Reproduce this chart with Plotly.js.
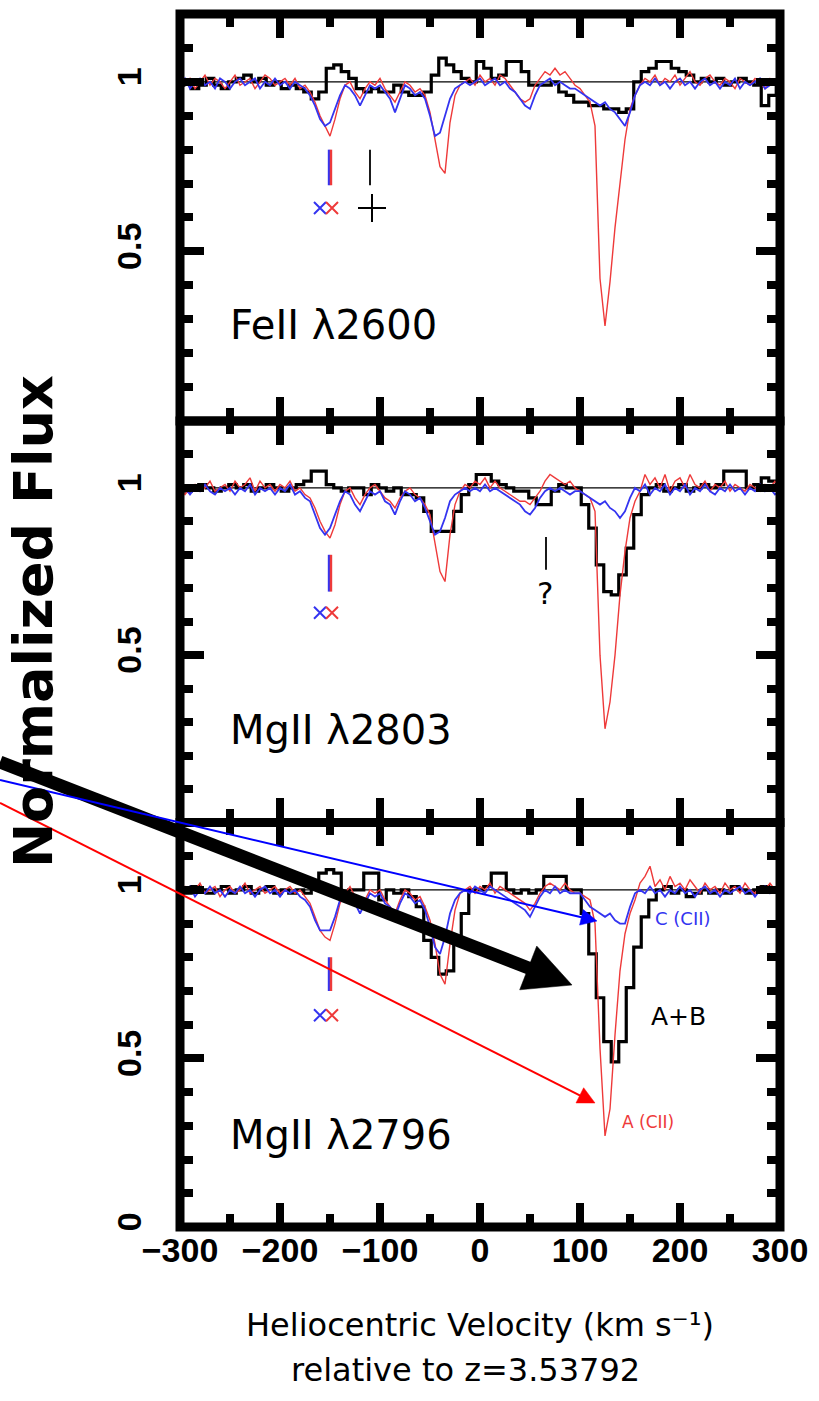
<!DOCTYPE html>
<html><head><meta charset="utf-8">
<script src="https://cdn.plot.ly/plotly-3.0.1.min.js"></script>
<style>html,body{margin:0;padding:0;background:#fff;}#chart{width:819px;height:1401px;}</style>
</head><body><div id="chart"></div>
<script>
// velocity grid of the high-resolution spectra (km/s)
const VEL = [
 -300,-295,-290,-285,-280,-275,-270,-265,-260,-255,
 -250,-245,-240,-235,-230,-225,-220,-215,-210,-205,
 -200,-195,-190,-185,-180,-175,-170,-165,-160,-155,
 -150,-145,-140,-135,-130,-125,-120,-115,-110,-105,
 -100,-95,-90,-85,-80,-75,-70,-65,-60,-55,
 -50,-45,-40,-35,-30,-25,-20,-15,-10,-5,
 0,5,10,15,20,25,30,35,40,45,
 50,55,60,65,70,75,80,85,90,95,
 100,105,110,115,120,125,130,135,140,145,
 150,155,160,165,170,175,180,185,190,195,
 200,205,210,215,220,225,230,235,240,245,
 250,255,260,265,270,275,280,285,290,295,
 300];
// velocity bins of the low-resolution (A+B) spectra
const VEL_BIN = [
 -300,-292.5,-285,-277.5,-270,-262.5,-255,-247.5,
 -240,-232.5,-225,-217.5,-210,-202.5,-195,-187.5,
 -180,-172.5,-165,-157.5,-150,-142.5,-135,-127.5,
 -120,-112.5,-105,-97.5,-90,-82.5,-75,-67.5,
 -60,-52.5,-45,-37.5,-30,-22.5,-15,-7.5,
 0,7.5,15,22.5,30,37.5,45,52.5,
 60,67.5,75,82.5,90,97.5,105,112.5,
 120,127.5,135,142.5,150,157.5,165,172.5,
 180,187.5,195,202.5,210,217.5,225,232.5,
 240,247.5,255,262.5,270,277.5,285,292.5,
 300];

// FeII 2600
const FE2600_A = [
 1.00,0.99,1.01,0.98,1.00,1.02,0.99,1.01,1.00,0.98,
 1.00,1.02,0.99,1.00,1.01,0.98,1.00,1.02,1.01,0.99,
 1.00,1.01,0.99,1.01,0.98,0.99,0.97,0.94,0.90,0.87,
 0.84,0.89,0.95,0.99,1.00,0.97,0.95,0.98,1.00,0.99,
 1.01,0.98,0.96,0.94,0.97,1.00,0.99,0.97,0.98,0.96,
 0.91,0.83,0.75,0.73,0.88,0.96,0.99,1.00,1.01,0.99,
 1.02,1.00,1.01,0.99,1.02,1.01,0.99,0.97,0.95,0.94,
 0.95,0.99,1.01,1.03,1.02,1.04,1.02,1.03,1.01,0.99,
 0.98,0.96,0.94,0.87,0.42,0.28,0.41,0.57,0.70,0.83,
 0.92,0.96,0.99,1.01,1.00,1.02,0.99,1.01,1.00,1.02,
 0.99,1.01,1.03,1.00,0.99,1.01,1.02,1.00,0.99,1.01,
 1.00,0.98,1.01,1.00,0.99,1.01,1.00,0.98,1.01,1.00,
 1.01];
const FE2600_C = [
 0.99,1.01,0.98,1.00,1.01,0.99,1.00,0.98,1.01,1.00,
 0.98,1.00,1.01,0.99,1.00,1.01,0.98,1.00,0.99,1.01,
 0.99,1.00,0.98,1.00,0.99,0.98,0.96,0.93,0.89,0.87,
 0.88,0.92,0.96,0.99,0.98,0.96,0.93,0.96,0.99,0.98,
 0.99,0.97,0.95,0.91,0.95,0.99,0.98,0.96,0.97,0.95,
 0.90,0.84,0.85,0.90,0.95,0.98,0.99,1.00,0.99,1.00,
 1.01,0.99,1.00,1.01,0.99,1.00,0.98,0.97,0.95,0.93,
 0.92,0.96,0.99,1.00,1.01,0.99,1.00,0.99,0.98,0.98,
 0.97,0.96,0.95,0.94,0.93,0.94,0.92,0.91,0.89,0.87,
 0.91,0.96,0.99,1.00,0.99,1.01,0.99,1.00,0.98,1.00,
 1.01,0.99,1.00,0.98,1.00,1.01,0.99,1.00,0.98,1.00,
 0.99,1.01,0.98,1.00,0.99,1.00,1.01,0.98,0.99,1.00,
 0.99];
const FE2600_AB = [
 0.99,1.00,0.98,0.99,1.01,0.99,0.98,1.00,
 1.01,1.02,1.00,1.01,0.99,1.00,0.98,0.99,
 0.98,0.97,0.95,0.97,1.04,1.05,1.03,1.01,
 0.98,0.97,0.98,0.97,0.97,0.99,0.97,0.96,
 0.96,0.97,1.02,1.07,1.05,1.03,1.01,1.00,
 1.06,1.04,1.01,1.02,1.06,1.06,1.03,0.99,
 0.99,0.99,1.00,0.97,0.96,0.94,0.94,0.93,
 0.93,0.92,0.92,0.91,0.92,1.00,1.03,1.04,
 1.06,1.06,1.04,1.03,1.02,1.00,1.01,1.00,
 1.01,0.99,1.00,1.01,1.00,0.99,0.93,0.96,
 1.00];

// MgII 2803
const MG2803_A = [
 1.00,0.98,1.00,1.01,0.99,1.00,1.02,0.99,1.00,1.01,
 0.99,1.02,1.00,1.01,1.03,0.99,1.02,1.00,1.01,0.99,
 1.01,1.00,1.02,0.99,1.00,0.98,0.97,0.94,0.90,0.87,
 0.85,0.89,0.95,0.99,1.00,0.97,0.95,0.98,1.00,1.01,
 0.99,0.97,0.96,0.94,0.97,0.99,1.00,0.98,0.97,0.95,
 0.92,0.84,0.75,0.72,0.86,0.95,0.99,1.01,1.00,1.02,
 1.01,1.03,1.00,1.02,1.00,0.99,0.98,0.97,0.96,0.96,
 0.95,0.97,0.99,1.02,1.04,1.03,1.02,1.01,1.02,1.00,
 0.99,0.98,0.97,0.93,0.50,0.28,0.36,0.50,0.68,0.81,
 0.91,0.96,0.99,1.04,1.01,1.03,1.00,1.04,0.99,1.02,
 1.03,1.00,1.04,1.01,1.00,1.02,0.99,1.01,1.00,1.02,
 0.99,1.01,1.00,0.99,1.01,1.00,0.99,1.01,1.00,1.02,
 1.00];
const MG2803_C = [
 0.99,1.00,0.98,1.00,0.99,1.01,0.99,0.98,1.00,0.99,
 1.00,0.98,1.00,0.99,1.01,0.98,1.00,0.99,1.00,0.98,
 1.00,0.99,1.01,0.98,0.99,0.97,0.96,0.92,0.88,0.86,
 0.88,0.92,0.96,0.99,0.98,0.95,0.93,0.96,0.99,0.98,
 0.99,0.96,0.95,0.92,0.96,0.99,0.98,0.96,0.97,0.94,
 0.90,0.86,0.87,0.91,0.96,0.98,0.99,1.00,0.99,1.00,
 0.99,1.01,0.99,1.00,0.99,0.98,0.97,0.96,0.95,0.93,
 0.92,0.94,0.97,0.99,1.00,0.99,1.00,0.99,0.98,0.99,
 0.99,0.98,0.97,0.96,0.95,0.96,0.94,0.93,0.91,0.93,
 0.97,1.00,0.99,1.01,0.98,1.00,0.99,1.01,0.98,1.00,
 0.99,1.01,0.98,1.00,0.99,1.01,0.99,0.98,1.00,0.99,
 1.01,0.99,1.00,0.98,1.00,0.99,1.01,0.99,1.00,0.98,
 0.99];
const MG2803_AB = [
 1.00,0.99,1.00,1.01,1.00,0.99,1.00,1.01,
 1.00,1.01,0.99,1.00,1.01,1.00,0.99,1.00,
 1.01,1.02,1.05,1.05,1.01,1.00,0.99,1.00,
 1.00,0.98,1.01,1.00,0.99,1.00,0.98,0.98,
 0.97,0.93,0.87,0.87,0.87,0.93,0.98,1.01,
 1.04,1.04,1.02,1.01,1.00,0.99,0.99,0.97,
 0.95,0.95,0.99,1.01,1.00,1.00,0.95,0.88,
 0.77,0.69,0.68,0.74,0.82,0.92,0.98,1.00,
 1.01,0.99,1.00,1.01,0.99,1.00,1.01,1.00,
 1.01,1.05,1.05,1.05,1.00,1.01,1.03,1.02,
 1.00];

// MgII 2796
const MG2796_A = [
 1.00,1.01,0.99,1.00,1.02,0.99,1.00,1.01,0.98,1.00,
 1.01,0.99,1.00,1.02,0.99,1.00,1.01,0.99,1.00,1.01,
 0.99,1.00,1.01,0.99,1.00,0.98,0.96,0.92,0.88,0.86,
 0.85,0.90,0.96,0.99,1.01,0.98,0.95,0.97,1.00,0.99,
 1.00,0.97,0.95,0.93,0.97,1.00,0.99,0.97,0.98,0.95,
 0.91,0.84,0.75,0.72,0.84,0.94,0.99,1.00,1.01,0.99,
 1.01,1.00,1.02,0.99,1.01,1.00,0.99,0.98,0.97,0.96,
 0.94,0.96,0.99,1.01,1.02,1.01,1.00,1.02,1.00,0.99,
 0.99,0.98,0.97,0.90,0.53,0.27,0.35,0.57,0.76,0.87,
 0.93,0.97,1.02,1.04,1.07,1.01,1.03,1.00,1.04,1.01,
 1.02,1.00,1.03,1.01,0.99,1.02,1.00,1.01,0.99,1.02,
 1.00,1.01,0.99,1.02,1.00,0.99,1.01,1.00,1.02,1.00,
 1.01];
const MG2796_C = [
 0.99,1.00,1.01,0.98,1.00,0.99,1.01,0.99,1.00,0.98,
 1.00,0.99,1.01,0.99,1.00,0.98,1.00,1.01,0.99,1.00,
 0.98,1.00,0.99,1.00,0.98,0.97,0.95,0.91,0.88,0.88,
 0.88,0.92,0.97,0.99,0.98,0.96,0.93,0.96,0.99,0.98,
 0.99,0.96,0.95,0.92,0.96,0.99,0.98,0.96,0.97,0.94,
 0.89,0.83,0.81,0.86,0.93,0.97,0.99,1.00,0.99,1.01,
 1.00,0.99,1.01,1.00,0.99,0.98,0.97,0.96,0.95,0.94,
 0.92,0.95,0.98,1.00,0.99,1.01,0.99,1.00,0.99,0.99,
 0.99,0.97,0.95,0.94,0.93,0.92,0.93,0.91,0.90,0.90,
 0.95,0.99,1.00,0.99,1.01,0.99,1.00,0.98,1.00,0.99,
 1.01,0.99,1.00,0.98,1.00,1.01,0.99,1.00,0.98,1.00,
 0.99,1.00,1.01,0.99,1.00,0.98,1.00,1.01,0.99,1.00,
 0.99];
const MG2796_AB = [
 1.00,0.99,1.01,1.00,0.99,1.00,1.01,0.99,
 1.00,1.01,0.99,1.00,1.01,0.99,1.00,0.99,
 1.00,0.99,1.01,1.05,1.06,1.05,0.98,1.00,
 1.00,1.05,1.05,0.97,1.00,0.99,1.00,0.98,
 0.95,0.85,0.80,0.75,0.76,0.85,0.93,1.00,
 1.00,1.01,1.05,1.05,1.00,0.99,1.00,0.99,
 1.00,1.04,1.04,1.04,1.00,1.00,0.93,0.81,
 0.68,0.55,0.49,0.55,0.71,0.83,0.92,0.97,
 1.00,1.01,0.99,1.00,0.98,0.99,1.00,0.99,
 1.00,0.99,1.01,1.00,0.99,1.00,1.01,1.00,
 1.00];

const CONT_VEL = [-300, 300];
const CONT_FLUX = [1, 1];
const PANEL_NAMES = ['FeII λ2600', 'MgII λ2803', 'MgII λ2796'];
const X_TITLE = 'Heliocentric Velocity (km s⁻¹)';
const X_SUBTITLE = 'relative to z=3.53792';
const Y_TITLE = 'Normalized Flux';

// component tick bars: panel, velocity, low, high, component
const BAR_PANEL = [1, 1, 1, 2, 2, 2, 3, 3];
const BAR_VEL   = [-151, -149, -110, -151, -149, 66, -151, -149];
const BAR_LO    = [0.695, 0.695, 0.695, 0.69, 0.69, 0.755, 0.70, 0.70];
const BAR_HI    = [0.80, 0.80, 0.80, 0.80, 0.80, 0.853, 0.80, 0.80];
const BAR_COMP  = ['C', 'A', 'AB', 'C', 'A', 'AB', 'C', 'A'];
// component symbols
const SYM_PANEL = [1, 1, 1, 2, 2, 3, 3];
const SYM_VEL   = [-160, -148, -108, -160, -148, -160, -148];
const SYM_FLUX  = [0.628, 0.628, 0.628, 0.627, 0.627, 0.628, 0.628];
const SYM_COMP  = ['C', 'A', 'AB', 'C', 'A', 'C', 'A'];
// text labels
const TXT_PANEL = [2, 3, 3, 3];
const TXT_VEL   = [65, 203, 198, 168];
const TXT_FLUX  = [0.686, 0.916, 0.623, 0.311];
const TXT_TEXT  = ['?', 'C (CII)', 'A+B', 'A (CII)'];
const TXT_COMP  = ['AB', 'C', 'AB', 'A'];
const TXT_SIZE  = [31, 18, 25, 17];
// pointer arrows, page pixels: tail (left page edge) and tip
const ARROW_TAIL_X = [0, 0, 0];
const ARROW_TAIL_Y = [762, 780, 803];
const ARROW_TIP_X  = [572, 597, 595];
const ARROW_TIP_Y  = [985, 921, 1103];
const ARROW_WIDTH  = [13, 2, 2];
const ARROW_HEAD   = [47, 16, 17];
const ARROW_COLOR  = ['#000000', '#0000ff', '#ff0000'];

const COLOR = {A: '#ee3a3a', C: '#3434f0', AB: '#000000'};
const AX = [['x', 'y'], ['x2', 'y2'], ['x3', 'y3']];
const SPEC_A = [FE2600_A, MG2803_A, MG2796_A];
const SPEC_C = [FE2600_C, MG2803_C, MG2796_C];
const SPEC_AB = [FE2600_AB, MG2803_AB, MG2796_AB];

const traces = [];
for (let p = 0; p < 3; p++) {
  const [xa, ya] = AX[p];
  traces.push({x: CONT_VEL, y: CONT_FLUX, xaxis: xa, yaxis: ya, mode: 'lines',
    line: {color: '#000', width: 1.3}, hoverinfo: 'skip'});
  traces.push({x: VEL_BIN, y: SPEC_AB[p], xaxis: xa, yaxis: ya, mode: 'lines',
    line: {color: COLOR.AB, width: 3.2, shape: 'hvh'}});
  traces.push({x: VEL, y: SPEC_A[p], xaxis: xa, yaxis: ya, mode: 'lines',
    line: {color: COLOR.A, width: 1.4}});
  traces.push({x: VEL, y: SPEC_C[p], xaxis: xa, yaxis: ya, mode: 'lines',
    line: {color: COLOR.C, width: 1.8}});
}
for (let i = 0; i < BAR_VEL.length; i++) {
  const [xa, ya] = AX[BAR_PANEL[i] - 1];
  traces.push({x: [BAR_VEL[i], BAR_VEL[i]], y: [BAR_LO[i], BAR_HI[i]], xaxis: xa, yaxis: ya,
    mode: 'lines', line: {color: COLOR[BAR_COMP[i]], width: BAR_COMP[i] === 'AB' ? 1.8 : 2.4}});
}
for (let i = 0; i < SYM_VEL.length; i++) {
  const [xa, ya] = AX[SYM_PANEL[i] - 1];
  const isAB = SYM_COMP[i] === 'AB';
  const c = COLOR[SYM_COMP[i]];
  traces.push({x: [SYM_VEL[i]], y: [SYM_FLUX[i]], xaxis: xa, yaxis: ya, mode: 'markers',
    marker: {symbol: isAB ? 'cross-thin-open' : 'x-thin-open', size: isAB ? 20 : 12, color: c,
      line: {color: c, width: 2}}});
}

const W = 819, H = 1401, ML = 180, MR = 39, MT = 14, MB = 174;
const PW = W - ML - MR, PH = H - MT - MB;
const DOM = [[0.6645, 1], [0.3335, 0.6645], [0, 0.3335]];
const TICKFONT = {family: 'Liberation Sans', size: 34, weight: 'bold', color: '#000'};
function xAxis(anchor, labels) {
  return {domain: [0, 1], anchor: anchor, range: [-300, 300], showline: false, zeroline: false,
    showgrid: false, ticks: 'inside', tickmode: 'linear', tick0: -300, dtick: 100,
    ticklen: 24, tickwidth: 8, tickcolor: '#000', mirror: 'allticks',
    minor: {ticks: 'inside', tick0: -300, dtick: 50, ticklen: 13, tickwidth: 8, tickcolor: '#000', showgrid: false},
    showticklabels: labels, tickfont: TICKFONT, ticklabelstandoff: 0};
}
function yAxis(dom, anchor, vals) {
  return {domain: dom, anchor: anchor, range: [0, 1.2], showline: false, zeroline: false,
    showgrid: false, ticks: 'inside', tickmode: 'array', tickvals: vals,
    ticklen: 24, tickwidth: 8, tickcolor: '#000', mirror: 'allticks', tickangle: -90,
    minor: {ticks: 'inside', tick0: 0, dtick: 0.1, ticklen: 13, tickwidth: 8, tickcolor: '#000', showgrid: false},
    tickfont: TICKFONT, ticklabelstandoff: 31};
}

const shapes = DOM.map(d => ({type: 'rect', xref: 'paper', yref: 'paper', x0: 0, x1: 1, y0: d[0], y1: d[1],
  line: {color: '#000', width: 9}, layer: 'above'}));
// arrows: shaft + filled triangular head, placed in paper units
const px2x = px => (px - ML) / PW;
const py2y = py => (H - MB - py) / PH;
for (let i = 0; i < ARROW_TIP_X.length; i++) {
  const dx = ARROW_TIP_X[i] - ARROW_TAIL_X[i], dy = ARROW_TIP_Y[i] - ARROW_TAIL_Y[i];
  const len = Math.hypot(dx, dy), ux = dx / len, uy = dy / len;
  const hl = ARROW_HEAD[i], hw = ARROW_HEAD[i] / 2;
  const bx = ARROW_TIP_X[i] - hl * ux, by = ARROW_TIP_Y[i] - hl * uy;
  shapes.push({type: 'line', xref: 'paper', yref: 'paper', layer: 'above',
    x0: px2x(ARROW_TAIL_X[i]), y0: py2y(ARROW_TAIL_Y[i]), x1: px2x(bx + ux), y1: py2y(by + uy),
    line: {color: ARROW_COLOR[i], width: ARROW_WIDTH[i]}});
  const pts = [[ARROW_TIP_X[i], ARROW_TIP_Y[i]], [bx - hw * uy, by + hw * ux], [bx + hw * uy, by - hw * ux]];
  shapes.push({type: 'path', xref: 'paper', yref: 'paper', layer: 'above',
    path: 'M' + pts.map(q => px2x(q[0]) + ',' + py2y(q[1])).join('L') + 'Z',
    fillcolor: ARROW_COLOR[i], line: {color: ARROW_COLOR[i], width: 0.5}});
}

const annotations = [];
for (let p = 0; p < 3; p++) {
  annotations.push({xref: AX[p][0], yref: AX[p][1], x: -252, y: [0.283, 0.276, 0.273][p],
    text: PANEL_NAMES[p], showarrow: false, xanchor: 'left', yanchor: 'middle',
    font: {family: 'DejaVu Sans', size: 40, color: '#000'}});
}
for (let i = 0; i < TXT_TEXT.length; i++) {
  const [xa, ya] = AX[TXT_PANEL[i] - 1];
  annotations.push({xref: xa, yref: ya, x: TXT_VEL[i], y: TXT_FLUX[i], text: TXT_TEXT[i],
    showarrow: false, xanchor: 'center', yanchor: 'middle',
    font: {family: 'DejaVu Sans', size: TXT_SIZE[i], color: COLOR[TXT_COMP[i]]}});
}
// second line of the x-axis title
annotations.push({xref: 'paper', yref: 'paper', x: px2x(465), y: py2y(1370), text: X_SUBTITLE,
  showarrow: false, xanchor: 'center', yanchor: 'middle',
  font: {family: 'DejaVu Sans', size: 32, color: '#000'}});

const y2 = yAxis(DOM[1], 'x2', [0.5, 1]);
y2.title = {text: Y_TITLE, font: {family: 'DejaVu Sans', size: 54, weight: 'bold', color: '#000'}, standoff: 40};
const x3 = xAxis('y3', true);
x3.title = {text: X_TITLE, font: {family: 'DejaVu Sans', size: 32, color: '#000'}, standoff: 45};

const layout = {
  width: W, height: H,
  margin: {l: ML, r: MR, t: MT, b: MB, pad: 0},
  paper_bgcolor: '#fff', plot_bgcolor: '#fff', showlegend: false,
  font: {family: 'DejaVu Sans', color: '#000'},
  xaxis: xAxis('y', false), xaxis2: xAxis('y2', false), xaxis3: x3,
  yaxis: yAxis(DOM[0], 'x', [0.5, 1]), yaxis2: y2,
  yaxis3: yAxis(DOM[2], 'x3', [0, 0.5, 1]),
  shapes: shapes, annotations: annotations
};
Plotly.newPlot('chart', traces, layout, {staticPlot: true, displayModeBar: false});
</script></body></html>
